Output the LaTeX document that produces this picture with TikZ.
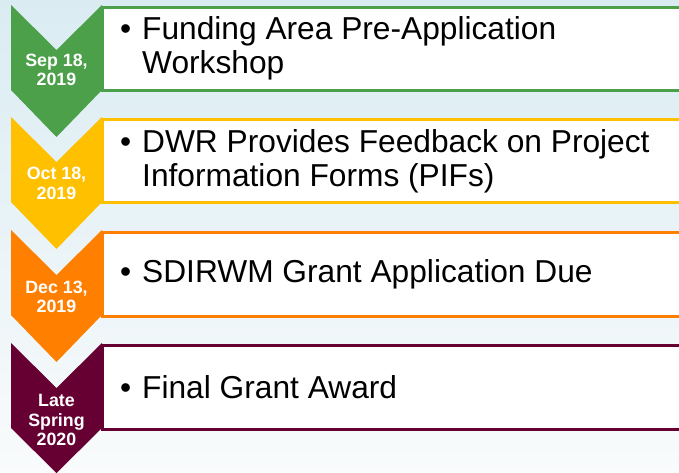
\documentclass[tikz,border=0pt]{standalone}
\usepackage{fontspec}
\setmainfont{Liberation Sans}
\definecolor{cgreen}{RGB}{76,160,73}
\definecolor{cyellow}{RGB}{255,192,0}
\definecolor{corange}{RGB}{255,128,0}
\definecolor{cmaroon}{RGB}{102,0,51}
\definecolor{bgtop}{RGB}{218,236,242}
\definecolor{bgbot}{RGB}{249,251,252}
\begin{document}
\begin{tikzpicture}[x=1pt,y=-1pt,
  datetext/.style={text=white, font=\fontsize{17.8}{19.6}\selectfont\bfseries, align=center, inner sep=0pt},
  itemtext/.style={anchor=west, inner sep=0pt, align=left, font=\fontsize{31.7}{34}\selectfont, text=black},
  boxline/.style={line width=3pt, fill=white}]
\useasboundingbox (0,0) rectangle (679,473);
\shade[top color=bgtop,bottom color=bgbot] (0,0) rectangle (679,473);

% stage 1
\draw[boxline, draw=cgreen] (102,7.3) rectangle (690,90.3);
\fill[cgreen] (11,5) -- (56.5,50) -- (102,5) -- (102,90) -- (56.5,137) -- (11,90) -- cycle;
\node[datetext] (d1) at (56.5,70) {Sep 18,\\2019};
\node[itemtext] (t1) at (120,48.5) {\makebox[22pt][l]{\textbullet}Funding Area Pre-Application\\\hspace*{22pt}Workshop};

% stage 2
\draw[boxline, draw=cyellow] (102,119.8) rectangle (690,202.8);
\fill[cyellow] (11,117) -- (56.5,162) -- (102,117) -- (102,202) -- (56.5,249) -- (11,202) -- cycle;
\node[datetext] (d2) at (56.5,183.5) {Oct 18,\\2019};
\node[itemtext] (t2) at (120,161.5) {\makebox[22pt][l]{\textbullet}DWR Provides Feedback on Project\\\hspace*{22pt}Information Forms (PIFs)};

% stage 3
\draw[boxline, draw=corange] (102,232.8) rectangle (690,316.2);
\fill[corange] (11,230) -- (56.5,275) -- (102,230) -- (102,315) -- (56.5,362) -- (11,315) -- cycle;
\node[datetext] (d3) at (56.5,296.8) {Dec 13,\\2019};
\node[itemtext] (t3) at (120,274.5) {\makebox[22pt][l]{\textbullet}SDIRWM Grant Application Due};

% stage 4
\draw[boxline, draw=cmaroon] (102,345.8) rectangle (690,429.2);
\fill[cmaroon] (11,343) -- (56.5,388) -- (102,343) -- (102,428) -- (56.5,473) -- (11,428) -- cycle;
\node[datetext] (d4) at (56.5,420.3) {Late\\Spring\\2020};
\node[itemtext] (t4) at (120,387) {\makebox[22pt][l]{\textbullet}Final Grant Award};
\end{tikzpicture}
\end{document}
